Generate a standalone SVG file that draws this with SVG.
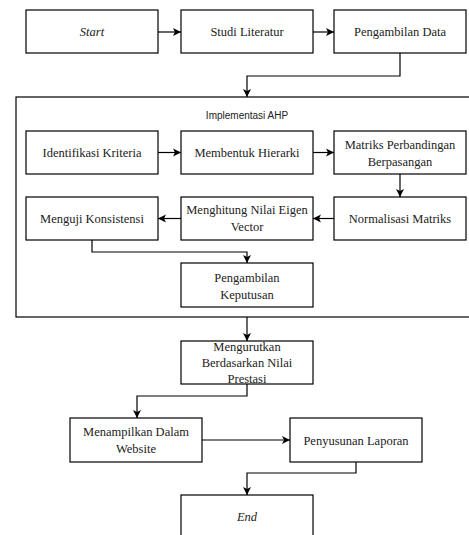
<svg xmlns="http://www.w3.org/2000/svg" width="469" height="535" viewBox="0 0 469 535">
<defs>
<marker id="arr" markerUnits="userSpaceOnUse" markerWidth="10" markerHeight="10" viewBox="0 0 10 10" refX="9" refY="5" orient="auto">
<path d="M1,1 L9,5 L1,9 L3,5 Z" fill="#000"/>
</marker>
</defs>
<style>
.box{fill:#fff;stroke:#000;stroke-width:1.2}
.t{font-family:"Liberation Serif","Times New Roman",serif;font-size:12.5px;fill:#222;text-anchor:middle}
.i{font-style:italic}
.s{font-family:"Liberation Sans",Arial,sans-serif;font-size:10px;fill:#222;text-anchor:middle}
.c{fill:none;stroke:#000;stroke-width:1.2;marker-end:url(#arr)}
</style>
<rect width="469" height="535" fill="#fff"/>
<g id="container">
<rect class="box" x="16" y="97" width="456" height="220"/>
<text class="s" x="247" y="118.5">Implementasi AHP</text>
</g>
<g id="start"><rect class="box" x="26" y="10" width="132" height="43"/><text class="t i" x="92" y="35.5">Start</text></g>
<g id="studi"><rect class="box" x="181" y="10" width="132" height="43"/><text class="t" x="247" y="35.5">Studi Literatur</text></g>
<g id="data"><rect class="box" x="334" y="10" width="132" height="43"/><text class="t" x="400" y="35.5">Pengambilan Data</text></g>
<g id="identifikasi"><rect class="box" x="26" y="131" width="132" height="43"/><text class="t" x="92" y="156.5">Identifikasi Kriteria</text></g>
<g id="hierarki"><rect class="box" x="181" y="131" width="132" height="43"/><text class="t" x="247" y="156.5">Membentuk Hierarki</text></g>
<g id="matriks"><rect class="box" x="334" y="131" width="132" height="43"/><text class="t" x="400" y="148.5">Matriks Perbandingan</text><text class="t" x="400" y="166">Berpasangan</text></g>
<g id="konsistensi"><rect class="box" x="26" y="197" width="132" height="43"/><text class="t" x="92" y="222.5">Menguji Konsistensi</text></g>
<g id="eigen"><rect class="box" x="181" y="197" width="132" height="43"/><text class="t" x="247" y="213.5">Menghitung Nilai Eigen</text><text class="t" x="247" y="231">Vector</text></g>
<g id="normalisasi"><rect class="box" x="334" y="197" width="132" height="43"/><text class="t" x="400" y="222.5">Normalisasi Matriks</text></g>
<g id="keputusan"><rect class="box" x="181" y="263" width="132" height="44"/><text class="t" x="247" y="282">Pengambilan</text><text class="t" x="247" y="298.5">Keputusan</text></g>
<g id="mengurutkan"><rect class="box" x="181" y="341" width="132" height="43"/><text class="t" x="247" y="351">Mengurutkan</text><text class="t" x="247" y="367">Berdasarkan Nilai</text><text class="t" x="247" y="383">Prestasi</text></g>
<g id="website"><rect class="box" x="70" y="418" width="132" height="44"/><text class="t" x="136" y="436">Menampilkan Dalam</text><text class="t" x="136" y="452.5">Website</text></g>
<g id="laporan"><rect class="box" x="290" y="418" width="132" height="44"/><text class="t" x="356" y="444.5">Penyusunan Laporan</text></g>
<g id="end"><rect class="box" x="181" y="495" width="132" height="44"/><text class="t i" x="247" y="521">End</text></g>
<g id="connectors">
<path class="c" d="M158,32 H181"/>
<path class="c" d="M313,32 H334"/>
<path class="c" d="M400,53 V76 H247 V97"/>
<path class="c" d="M158,152.5 H181"/>
<path class="c" d="M313,152.5 H334"/>
<path class="c" d="M400,174 V197"/>
<path class="c" d="M334,218.5 H313"/>
<path class="c" d="M181,218.5 H158"/>
<path class="c" d="M92,240 V252 H247 V263"/>
<path class="c" d="M247,317 V341"/>
<path class="c" d="M247,384 V396 H137 V418"/>
<path class="c" d="M202,440 H290"/>
<path class="c" d="M356,462 V473 H247 V495"/>
</g>
</svg>
